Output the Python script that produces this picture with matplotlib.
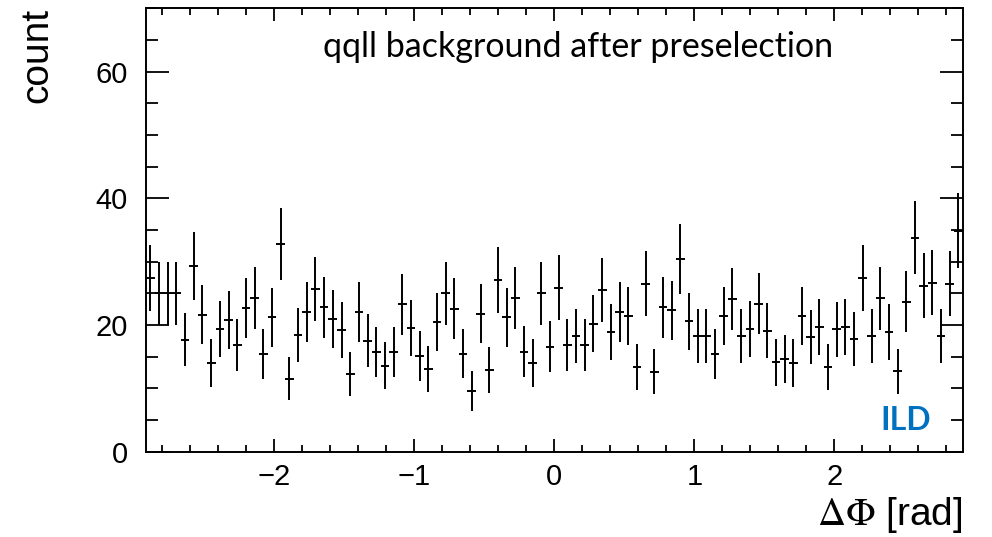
import numpy as np
import matplotlib.pyplot as plt
from matplotlib.ticker import MultipleLocator

# histogram range and binning (94 bins)
x_low, x_high = -2.916, 2.916
n_bins = 94

# bin contents
counts = [
    27.4, 25.0, 25.0, 25.0, 17.7, 29.3, 21.6, 14.0, 19.4, 20.8,
    16.9, 22.7, 24.3, 15.4, 21.2, 32.8, 11.5, 18.4, 22.1, 25.7,
    22.8, 21.0, 19.2, 12.3, 22.1, 17.5, 15.7, 13.6, 15.7, 23.3,
    19.5, 15.1, 13.1, 20.5, 25.0, 22.6, 15.5, 9.6, 21.8, 12.9,
    27.1, 21.2, 24.3, 15.8, 14.0, 25.0, 16.6, 25.9, 16.9, 18.2,
    16.9, 20.2, 25.6, 18.9, 22.1, 21.4, 13.4, 26.5, 12.6, 22.8,
    22.3, 30.5, 20.6, 18.2, 18.3, 15.4, 21.4, 24.1, 18.2, 19.4,
    23.4, 19.1, 14.1, 14.6, 14.0, 21.4, 18.1, 19.7, 13.4, 19.3,
    19.7, 17.8, 27.4, 18.3, 24.2, 18.9, 12.7, 23.7, 33.8, 26.2,
    26.7, 18.3, 26.5, 34.9,
]

edges = np.linspace(x_low, x_high, n_bins + 1)
centers = 0.5 * (edges[1:] + edges[:-1])
half_width = 0.5 * (edges[1] - edges[0])
counts = np.array(counts)
errors = np.sqrt(counts)  # poisson errors

plt.rcParams['font.family'] = ['Liberation Sans', 'DejaVu Sans']
plt.rcParams['mathtext.fontset'] = 'stix'

fig = plt.figure(figsize=(9.92, 5.37), dpi=100)
ax = fig.add_axes([0.1472, 0.1588, 0.8233, 0.8256])

ax.errorbar(centers, counts, xerr=half_width, yerr=errors, fmt='none',
            ecolor='black', elinewidth=1.4, capsize=0)

ax.set_xlim(x_low, x_high)
ax.set_ylim(0, 70)

ax.xaxis.set_major_locator(MultipleLocator(1))
ax.xaxis.set_minor_locator(MultipleLocator(0.2))
ax.yaxis.set_major_locator(MultipleLocator(20))
ax.yaxis.set_minor_locator(MultipleLocator(5))
ax.tick_params(axis='both', which='both', direction='in', top=True, right=True,
               labelsize=21, width=1.3, colors='black')
ax.tick_params(axis='x', which='major', length=9.5, pad=8)
ax.tick_params(axis='x', which='minor', length=4.7)
ax.tick_params(axis='y', which='major', length=16.5, pad=13)
ax.tick_params(axis='y', which='minor', length=8.5)
for spine in ax.spines.values():
    spine.set_linewidth(1.4)

# axis titles, ROOT style (aligned to the axis ends)
fig.text(0.9705, 1 - 515 / 537, r'$\Delta\Phi$ [rad]', ha='right', va='center',
         fontsize=28)
fig.text(37 / 992, 1 - 8 / 537, 'count', rotation=90, ha='center', va='top',
         fontsize=28)

fig.text(578 / 992, 1 - 47 / 537, 'qqll background after preselection',
         ha='center', va='center', fontsize=24.5, family=['Lato', 'DejaVu Sans'])
fig.text(906 / 992, 1 - 420 / 537, 'ILD', ha='center', va='center',
         fontsize=23, fontweight='bold', color='#0070C0',
         family=['Lato', 'DejaVu Sans'])

fig.savefig('out.png', dpi=100)
